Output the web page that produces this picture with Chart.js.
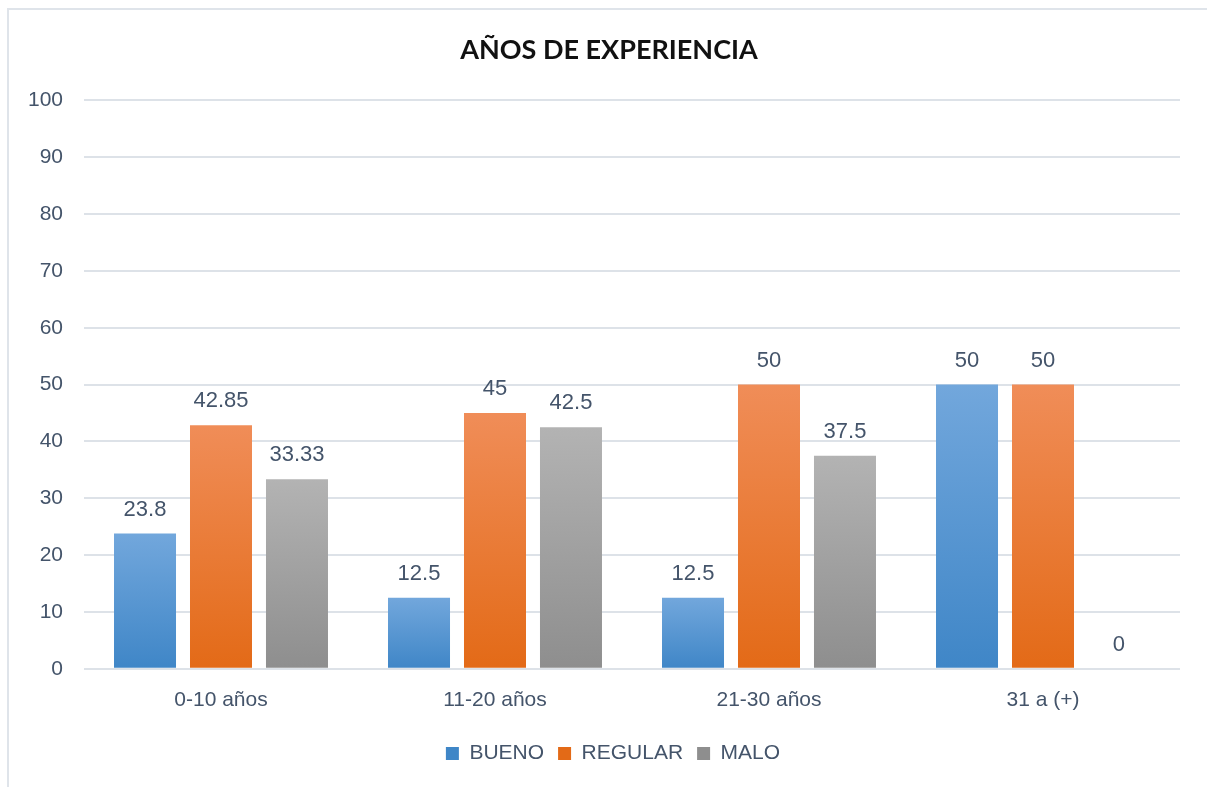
<!DOCTYPE html>
<html>
<head>
<meta charset="utf-8">
<script src="https://cdn.jsdelivr.net/npm/chart.js@4.4.1/dist/chart.umd.min.js"></script>
<style>
  html, body { margin: 0; padding: 0; background: #fff; }
  #wrap { position: relative; width: 1207px; height: 787px; }
  #frame { position: absolute; left: 7px; top: 8px; right: 0; bottom: 0;
           border-top: 2px solid #dfe4ea; border-left: 2px solid #dfe4ea; }
  canvas { position: absolute; left: 0; top: 0; }
</style>
</head>
<body>
<div id="wrap">
  <div id="frame"></div>
  <canvas id="myChart" width="1207" height="787"></canvas>
</div>
<script>
const categories = ['0-10 años', '11-20 años', '21-30 años', '31 a (+)'];
const bueno = [23.8, 12.5, 12.5, 50];
const regular = [42.85, 45, 50, 50];
const malo = [33.33, 42.5, 37.5, 0];
const yTicks = [0, 10, 20, 30, 40, 50, 60, 70, 80, 90, 100];

const textColor = '#44546a';
const gridColor = '#dde2e8';
const labelFont = '"Liberation Sans", Arial, sans-serif';

// colores por serie: [arriba, abajo, base]
const shades = {
    BUENO: ['#72a7dc', '#3f86c7', '#5b9bd5'],
    REGULAR: ['#f08d58', '#e36a17', '#ed7d31'],
    MALO: ['#b3b3b3', '#8e8e8e', '#a5a5a5']
};

const barFill = (name) => (context) => {
    const c = shades[name];
    const chart = context.chart;
    if (context.type !== 'data' || !chart.chartArea || !chart.scales.y) {
        return c[2];
    }
    const y = chart.scales.y;
    const top = y.getPixelForValue(context.raw);
    const bottom = y.getPixelForValue(0);
    if (bottom - top < 1) {
        return c[2];
    }
    const g = chart.ctx.createLinearGradient(0, top, 0, bottom);
    g.addColorStop(0, c[0]);
    g.addColorStop(1, c[1]);
    return g;
};

const valueLabels = {
    id: 'valueLabels',
    afterLayout(chart) {
        // titulo y leyenda del original estan un poco desplazados a la derecha
        if (chart.titleBlock) {
            chart.titleBlock.left += 18;
        }
        if (chart.legend) {
            chart.legend.left += 26;
        }
    },
    afterDatasetsDraw(chart) {
        const ctx = chart.ctx;
        ctx.save();
        ctx.font = '22px ' + labelFont;
        ctx.fillStyle = textColor;
        ctx.textAlign = 'center';
        ctx.textBaseline = 'middle';
        chart.data.datasets.forEach((ds, i) => {
            const meta = chart.getDatasetMeta(i);
            meta.data.forEach((bar, j) => {
                ctx.fillText(String(ds.data[j]), bar.x, bar.y - 24);
            });
        });
        ctx.restore();
    }
};

const ctx = document.getElementById('myChart');

new Chart(ctx, {
    type: 'bar',
    data: {
        labels: categories,
        datasets: [
            { label: 'BUENO', data: bueno, backgroundColor: barFill('BUENO') },
            { label: 'REGULAR', data: regular, backgroundColor: barFill('REGULAR') },
            { label: 'MALO', data: malo, backgroundColor: barFill('MALO') }
        ]
    },
    options: {
        responsive: false,
        animation: false,
        devicePixelRatio: 1,
        categoryPercentage: 0.832,
        barPercentage: 0.816,
        layout: {
            padding: { left: 20, right: 27, top: 0, bottom: 13 }
        },
        scales: {
            x: {
                grid: { display: false },
                border: { display: false },
                afterFit: (scale) => {
                    scale.height += 5;
                },
                ticks: {
                    color: textColor,
                    padding: 11,
                    font: { family: labelFont, size: 21 }
                }
            },
            y: {
                min: 0,
                max: 100,
                afterBuildTicks: (scale) => {
                    scale.ticks = yTicks.map(v => ({ value: v }));
                },
                afterFit: (scale) => {
                    scale.width = 64;
                },
                grid: { color: gridColor, lineWidth: 2, drawTicks: false },
                border: { display: false },
                ticks: {
                    color: textColor,
                    padding: 21,
                    font: { family: labelFont, size: 21 }
                }
            }
        },
        plugins: {
            title: {
                display: true,
                text: 'AÑOS DE EXPERIENCIA',
                color: '#111111',
                font: { family: 'Lato, sans-serif', size: 27, weight: 'bold' },
                padding: { top: 34, bottom: 34 }
            },
            legend: {
                position: 'bottom',
                labels: {
                    color: textColor,
                    boxWidth: 13,
                    boxHeight: 13,
                    padding: 14,
                    font: { family: labelFont, size: 21 }
                }
            },
            tooltip: { enabled: false }
        }
    },
    plugins: [valueLabels]
});
</script>
</body>
</html>
